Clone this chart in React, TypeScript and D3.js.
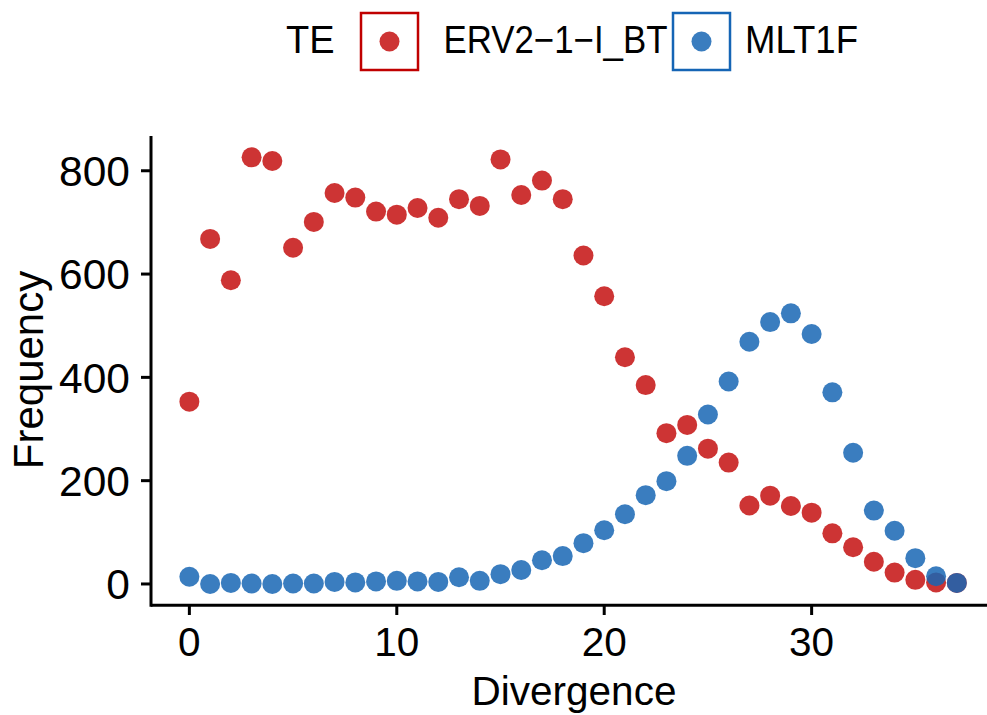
import React from "react";
import * as d3 from "d3";

const divergence = [0,1,2,3,4,5,6,7,8,9,10,11,12,13,14,15,16,17,18,19,20,21,22,23,24,25,26,27,28,29,30,31,32,33,34,35,36,37];
const erv = [353,668,588,826,819,651,701,757,748,721,715,728,709,745,732,822,753,781,745,636,557,439,385,292,308,262,235,152,171,151,138,98,71,43,22,8,3,2];
const mlt = [14,0,2,1,0,1,1,4,3,5,6,5,4,13,6,19,27,46,54,79,104,135,172,199,248,328,392,469,507,524,484,371,254,142,103,50,15,2];
const xTicks = [0,10,20,30];
const yTicks = [0,200,400,600,800];
const seriesNames = ["ERV2−1−I_BT","MLT1F"];
const fills = ["#C81E1E","#1766B4"];
const strokes = ["#C00000","#1565B5"];

export default function App() {
  const W = 987, H = 715;
  const x = d3.scaleLinear().domain([-1.85, 38.85]).range([151, 995.2]);
  const y = d3.scaleLinear().domain([-41.3, 867.3]).range([605.3, 136]);
  const font = "'Liberation Sans', Arial, sans-serif";
  const series = [erv, mlt];
  return (
    <svg width={W} height={H} style={{position:"absolute", left:0, top:0, background:"#fff"}} fontFamily={font}>
      <rect width={W} height={H} fill="#fff" />
      {series.map((vals, si) => (
        <g key={si}>
          {vals.map((v, i) => (
            <circle key={i} cx={x(divergence[i])} cy={y(v)} r={10} fill={fills[si]} fillOpacity={si === 0 ? 0.9 : 0.85} />
          ))}
        </g>
      ))}
      {/* axes */}
      <line x1={x.range()[0]} x2={W} y1={605.3} y2={605.3} stroke="#000" strokeWidth={3} />
      <line x1={151} x2={151} y1={136} y2={606.8} stroke="#000" strokeWidth={3} />
      {xTicks.map(t => (
        <g key={t}>
          <line x1={x(t)} x2={x(t)} y1={605.3} y2={615} stroke="#000" strokeWidth={3} />
          <text x={x(t)} y={655.7} textAnchor="middle" fontSize={40.5} fill="#000">{t}</text>
        </g>
      ))}
      {yTicks.map(t => (
        <g key={t}>
          <line x1={141} x2={151} y1={y(t)} y2={y(t)} stroke="#000" strokeWidth={3} />
          <text x={130} y={y(t) + 15.2} textAnchor="end" fontSize={42.5} fill="#000">{t}</text>
        </g>
      ))}
      <text x={574} y={705} textAnchor="middle" fontSize={40.5} fill="#000">Divergence</text>
      <text transform="translate(42.7,370) rotate(-90)" textAnchor="middle" fontSize={42} fill="#000">Frequency</text>
      {/* legend */}
      <text x={286} y={53.3} fontSize={38} fill="#000">TE</text>
      {[0,1].map(i => {
        const bx = i === 0 ? 361 : 673;
        const tx = i === 0 ? 443.5 : 745;
        return (
          <g key={i}>
            <rect x={bx} y={13} width={57} height={57} fill="none" stroke={strokes[i]} strokeWidth={2.5} />
            <circle cx={bx + 28.5} cy={41.5} r={10} fill={fills[i]} fillOpacity={i === 0 ? 0.9 : 0.85} />
            <text x={tx} y={53.3} fontSize={38} fill="#000" textLength={i === 0 ? 224 : 113} lengthAdjust="spacingAndGlyphs">{seriesNames[i]}</text>
          </g>
        );
      })}
    </svg>
  );
}
